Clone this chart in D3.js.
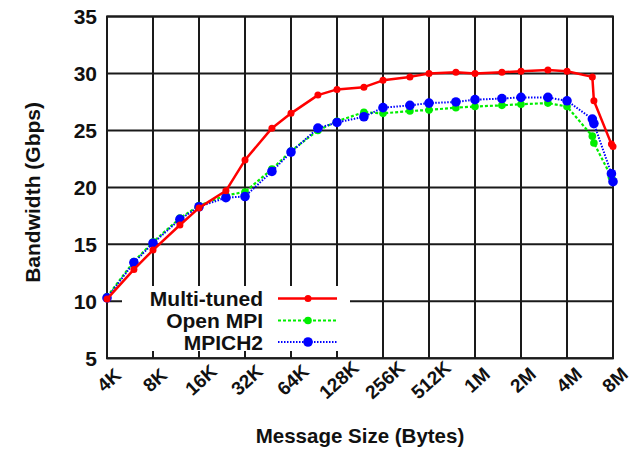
<!DOCTYPE html>
<html>
<head>
<meta charset="utf-8">
<script src="https://cdn.jsdelivr.net/npm/d3@7"></script>
<style>
  html, body { margin: 0; padding: 0; background: #fff; }
  svg { display: block; }
  text { font-family: "Liberation Sans", Arial, Helvetica, sans-serif; font-weight: bold; fill: #111; }
</style>
</head>
<body>
<svg id="chart" width="632" height="451"></svg>
<script>
// Message sizes in KB
const sizesKB = [4, 6, 8, 12, 16, 24, 32, 48, 64, 96, 128, 192, 256, 384, 512, 768, 1024, 1536, 2048, 3072, 4096, 6000, 6144, 8000, 8192];
const multiTuned = [10.2, 12.8, 14.5, 16.7, 18.2, 19.7, 22.4, 25.2, 26.5, 28.1, 28.6, 28.8, 29.4, 29.7, 30.0, 30.1, 30.0, 30.1, 30.2, 30.3, 30.2, 29.7, 27.6, 23.8, 23.6];
const openMPI    = [10.4, 13.5, 15.2, 17.3, 18.4, 19.3, 19.6, 21.6, 23.2, 25.0, 25.8, 26.6, 26.5, 26.7, 26.8, 27.0, 27.1, 27.2, 27.3, 27.4, 27.1, 24.5, 23.9, 20.9, 20.6];
const mpich2     = [10.3, 13.4, 15.1, 17.2, 18.3, 19.1, 19.2, 21.4, 23.1, 25.2, 25.7, 26.2, 27.0, 27.2, 27.4, 27.5, 27.7, 27.8, 27.9, 27.9, 27.6, 26.0, 25.6, 21.2, 20.5];
const seriesNames = ["Multi-tuned", "Open MPI", "MPICH2"];
const xTickValues = [4, 8, 16, 32, 64, 128, 256, 512, 1024, 2048, 4096, 8192];
const xTickLabels = ["4K", "8K", "16K", "32K", "64K", "128K", "256K", "512K", "1M", "2M", "4M", "8M"];
const yTickValues = [5, 10, 15, 20, 25, 30, 35];

const svg = d3.select("#chart");
const L = 107, R = 613, T = 16.5, B = 358.3;
const x = d3.scaleLog().base(2).domain([4, 8192]).range([L, R]);
const y = d3.scaleLinear().domain([5, 35]).range([B, T]);

const gridColor = "#1a1a1a";

// grid
const grid = svg.append("g");
grid.selectAll("line.v").data(xTickValues).join("line")
  .attr("x1", d => x(d)).attr("x2", d => x(d)).attr("y1", T).attr("y2", B)
  .attr("stroke", gridColor).attr("stroke-width", 2);
grid.selectAll("line.h").data(yTickValues).join("line")
  .attr("x1", L).attr("x2", R).attr("y1", d => y(d)).attr("y2", d => y(d))
  .attr("stroke", gridColor).attr("stroke-width", 2);

// y axis labels
const yAxis = d3.axisLeft(y).tickValues(yTickValues).tickSize(0).tickPadding(10).tickFormat(d3.format("d"));
const gy = svg.append("g").attr("transform", `translate(${L},0)`).call(yAxis);
gy.select(".domain").remove();
gy.selectAll("text").attr("font-size", 21).style("font-family", "'Liberation Sans', Arial, sans-serif").style("font-weight", "bold").attr("fill", "#111");

// x axis labels (rotated)
const gx = svg.append("g");
gx.selectAll("text").data(xTickValues).join("text")
  .attr("transform", d => `translate(${x(d) + 2},380) rotate(-42)`)
  .attr("text-anchor", "middle")
  .attr("dominant-baseline", "central")
  .attr("font-size", 19)
  .text((d, i) => xTickLabels[i]);

// border
svg.append("rect").attr("x", L).attr("y", T).attr("width", R - L).attr("height", B - T)
  .attr("fill", "none").attr("stroke", gridColor).attr("stroke-width", 2);

// axis titles
svg.append("text").attr("x", (L + R) / 2).attr("y", 443).attr("text-anchor", "middle")
  .attr("font-size", 20.5).text("Message Size (Bytes)");
svg.append("text").attr("transform", `translate(40,${(T + B) / 2 + 5}) rotate(-90)`)
  .attr("text-anchor", "middle").attr("font-size", 21).text("Bandwidth (Gbps)");

// series
const series = [
  { name: seriesNames[0], values: multiTuned, color: "#ff0000", width: 2.5, dash: null, r: 3.5 },
  { name: seriesNames[1], values: openMPI, color: "#00ee00", width: 2.2, dash: "3,2", r: 3.8 },
  { name: seriesNames[2], values: mpich2, color: "#0000ff", width: 2, dash: "1.5,1.5", r: 4.8 }
];

// legend box (opaque)
svg.append("rect").attr("x", 122).attr("y", 286).attr("width", 228).attr("height", 65).attr("fill", "#fff");

const line = d3.line().x(d => x(d[0])).y(d => y(d[1]));

// draw series (green first, then blue, then red on top)
const drawOrder = [1, 2, 0];
drawOrder.forEach(i => {
  const s = series[i];
  const pts = sizesKB.map((k, j) => [k, s.values[j]]);
  svg.append("path").datum(pts).attr("d", line).attr("fill", "none")
    .attr("stroke", s.color).attr("stroke-width", s.width)
    .attr("stroke-dasharray", s.dash).attr("stroke-linejoin", "round");
  svg.append("g").selectAll("circle").data(pts).join("circle")
    .attr("cx", d => x(d[0])).attr("cy", d => y(d[1])).attr("r", s.r).attr("fill", s.color);
});

// legend entries
const legendY = [298.5, 320.5, 342];
series.forEach((s, i) => {
  const g = svg.append("g");
  g.append("text").attr("x", 263).attr("y", legendY[i]).attr("dominant-baseline", "central")
    .attr("text-anchor", "end").attr("font-size", 21).text(s.name);
  g.append("line").attr("x1", 278).attr("x2", 337).attr("y1", legendY[i]).attr("y2", legendY[i])
    .attr("stroke", s.color).attr("stroke-width", s.width).attr("stroke-dasharray", s.dash);
  g.append("circle").attr("cx", 308).attr("cy", legendY[i]).attr("r", s.r).attr("fill", s.color);
});
</script>
</body>
</html>
